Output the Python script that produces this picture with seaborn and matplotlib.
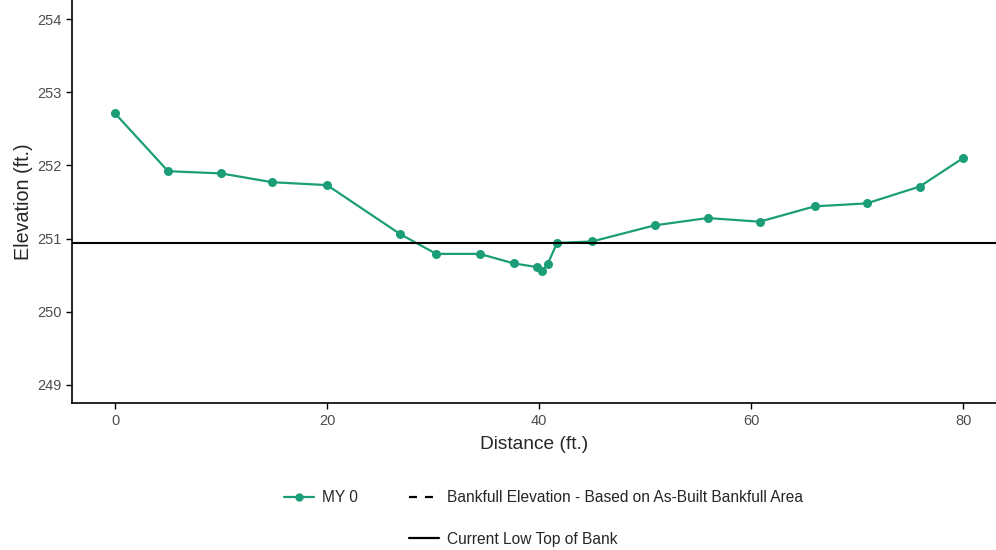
import matplotlib
matplotlib.use("Agg")
import matplotlib.pyplot as plt
import seaborn as sns
import pandas as pd
from matplotlib.lines import Line2D

distance = [0, 5.0, 10.0, 14.8, 20.0, 26.9, 30.3, 34.4, 37.6, 39.8, 40.3, 40.8,
            41.7, 45.0, 50.9, 55.9, 60.8, 66.0, 70.9, 75.9, 80.0]
elevation = [252.71, 251.92, 251.89, 251.77, 251.73, 251.06, 250.79, 250.79, 250.66,
             250.61, 250.56, 250.65, 250.94, 250.96, 251.18, 251.28, 251.23, 251.44,
             251.48, 251.71, 252.10]
low_top_of_bank = 250.94
series_label = "MY 0"
bankfull_label = "Bankfull Elevation - Based on As-Built Bankfull Area"
ltob_label = "Current Low Top of Bank"
yticks = [249, 250, 251, 252, 253, 254]
xticks = [0, 20, 40, 60, 80]

df = pd.DataFrame({"Distance": distance, "Elevation": elevation, "Survey": series_label})

sns.set_theme(style="ticks")
plt.rcParams["font.family"] = ["Liberation Sans", "DejaVu Sans"]

green = "#1b9e77"
fig = plt.figure(figsize=(9.96, 5.5), dpi=100)
ax = fig.add_axes([0.0723, 0.267, 0.9277, 0.733])

sns.lineplot(data=df, x="Distance", y="Elevation", ax=ax, color=green, marker="o",
             markersize=6.5, markeredgewidth=0, linewidth=1.6, sort=False, legend=False)
ax.axhline(low_top_of_bank, color="black", linewidth=1.5)

ax.set_xlim(-4.06, 83.1)
ax.set_ylim(248.75, 254.26)
ax.set_xticks(xticks)
ax.set_yticks(yticks)
ax.tick_params(axis="both", colors="#4d4d4d", labelsize=10.5, length=4, width=1)
ax.tick_params(axis="both", color="black")
for s in ["left", "bottom"]:
    ax.spines[s].set_linewidth(1.2)
    ax.spines[s].set_color("black")
sns.despine(ax=ax)
ax.set_xlabel("Distance (ft.)", fontsize=13.8, labelpad=6)
ax.set_ylabel("Elevation (ft.)", fontsize=14.2, labelpad=3)

handles = [
    Line2D([], [], color=green, marker="o", markersize=6, markeredgewidth=0, linewidth=1.6),
    Line2D([], [], color="none"),
    Line2D([], [], color="black", linestyle=(0, (3.6, 3.6)), linewidth=1.6),
    Line2D([], [], color="black", linewidth=1.6),
]
labels = [series_label, "", bankfull_label, ltob_label]
fig.legend(handles, labels, loc="center", bbox_to_anchor=(0.5455, 0.0575), ncol=2,
           frameon=False, fontsize=11.2, handlelength=1.95, labelspacing=1.7,
           columnspacing=3.25, handletextpad=0.5, borderpad=0)

fig.savefig("out.png", dpi=100)
